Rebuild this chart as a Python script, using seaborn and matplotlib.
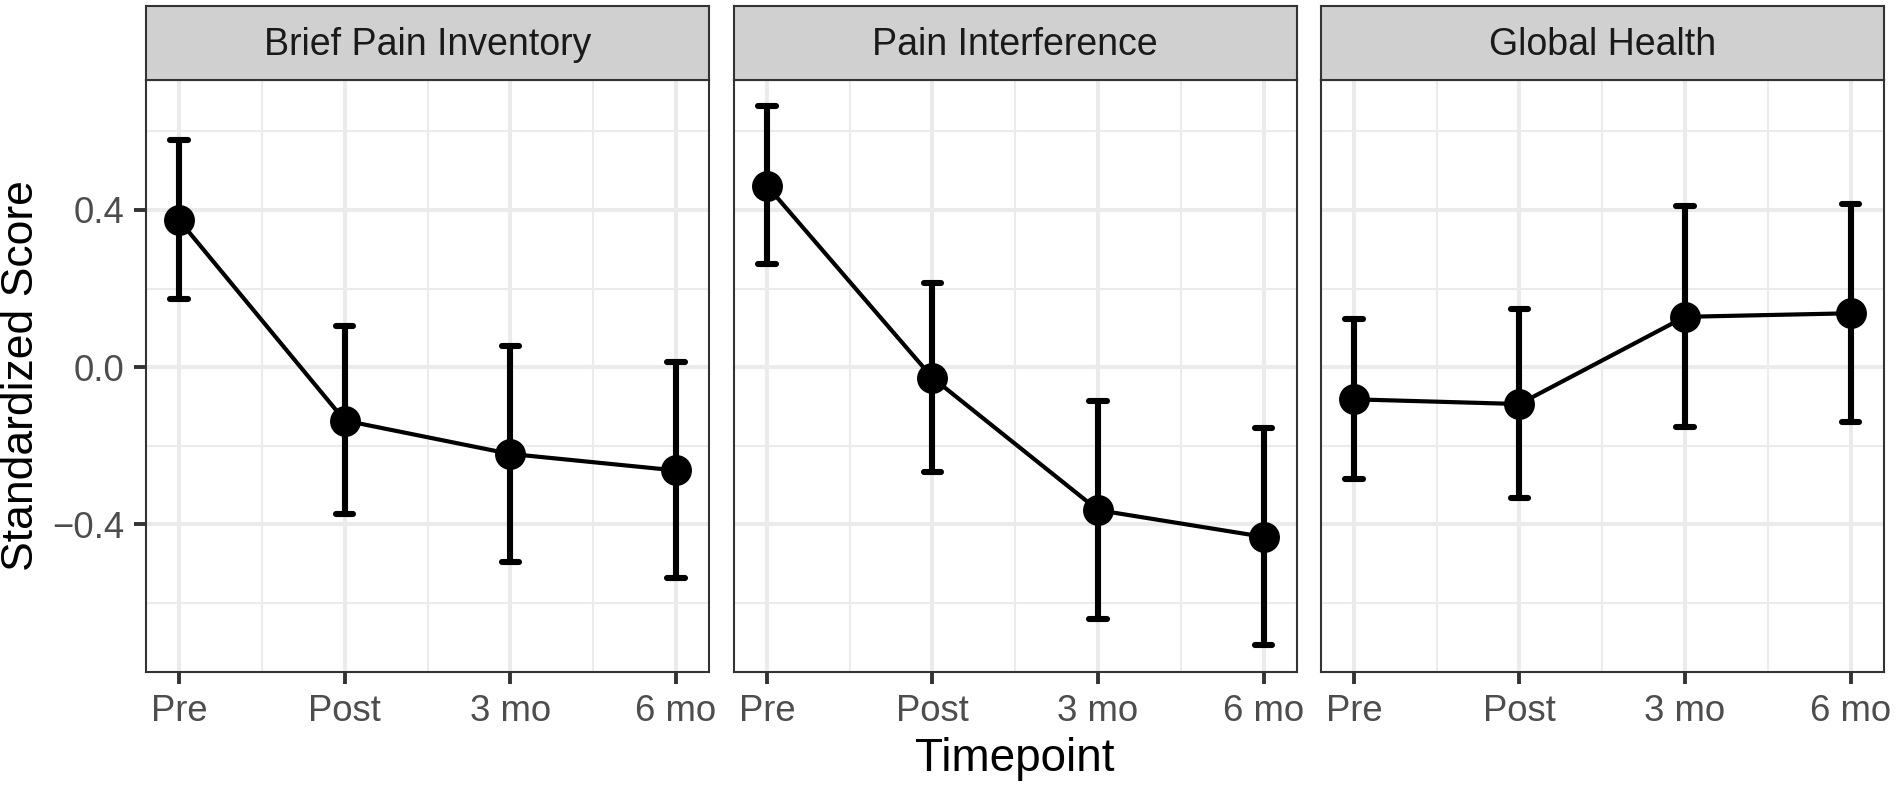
import numpy as np
import pandas as pd
import matplotlib
matplotlib.use("Agg")
import matplotlib.pyplot as plt
import seaborn as sns

# ---------------- data ----------------
timepoints = ["Pre", "Post", "3 mo", "6 mo"]
measures = ["Brief Pain Inventory", "Pain Interference", "Global Health"]

bpi_mean = [0.374, -0.136, -0.221, -0.263]
bpi_lower = [0.173, -0.374, -0.497, -0.537]
bpi_upper = [0.579, 0.105, 0.054, 0.013]

pi_mean = [0.462, -0.027, -0.364, -0.432]
pi_lower = [0.262, -0.267, -0.642, -0.708]
pi_upper = [0.665, 0.213, -0.085, -0.154]

gh_mean = [-0.082, -0.094, 0.128, 0.137]
gh_lower = [-0.285, -0.332, -0.153, -0.140]
gh_upper = [0.123, 0.147, 0.409, 0.414]

ytick_vals = [-0.4, 0.0, 0.4]
ytick_labels = ["\u22120.4", "0.0", "0.4"]

series = {
    "Brief Pain Inventory": (bpi_mean, bpi_lower, bpi_upper),
    "Pain Interference": (pi_mean, pi_lower, pi_upper),
    "Global Health": (gh_mean, gh_lower, gh_upper),
}

# long table: lower / mean / upper per point -> median = mean, 100% PI = CI
rows = []
for m in measures:
    mean, lo, hi = series[m]
    for t, a, b, c in zip(timepoints, lo, mean, hi):
        for v in (a, b, c):
            rows.append({"measure": m, "Timepoint": t, "score": v})
df = pd.DataFrame(rows)

# ---------------- style ----------------
sns.set_theme(style="white")
plt.rcParams["font.family"] = ["Liberation Sans", "DejaVu Sans"]

W, H = 1897, 790
fig = plt.figure(figsize=(W / 100, H / 100), dpi=100)

panel_left = [146.0, 733.7, 1320.7]
panel_w = 563.0
panel_top, panel_bottom = 79.5, 672.0
strip_top = 6.0

grid_col = "#EBEBEB"
border_col = "#333333"

for i, m in enumerate(measures):
    l = panel_left[i] / W
    ax = fig.add_axes([l, (H - panel_bottom) / H, panel_w / W,
                       (panel_bottom - panel_top) / H])
    sub = df[df["measure"] == m]
    sns.pointplot(data=sub, x="Timepoint", y="score", order=timepoints,
                  estimator="median", errorbar=("pi", 100),
                  color="black", capsize=0.105,
                  err_kws={"linewidth": 4.4, "color": "black"},
                  markersize=20, linewidth=3.0, ax=ax)
    ax.set_xlim(-0.2, 3.2)
    ax.set_ylim(-0.776, 0.732)
    ax.set_xlabel("")
    ax.set_ylabel("")
    ax.set_xticks(range(len(timepoints)))
    ax.set_xticklabels(timepoints)
    ax.set_xticks([0.5, 1.5, 2.5], minor=True)
    ax.set_yticks(ytick_vals)
    ax.set_yticklabels(ytick_labels)
    ax.set_yticks([-0.6, -0.2, 0.2, 0.6], minor=True)
    ax.set_axisbelow(True)
    ax.grid(True, which="major", color=grid_col, linewidth=2.9)
    ax.grid(True, which="minor", color=grid_col, linewidth=1.5)
    ax.tick_params(which="minor", length=0)
    ax.tick_params(axis="both", which="major", length=8.6, width=2.8,
                   color=border_col, labelcolor="#4D4D4D", labelsize=26.3)
    ax.tick_params(axis="x", which="major", pad=7.5, bottom=True)
    ax.tick_params(axis="y", which="major", pad=7.0, left=True)
    if i > 0:
        ax.tick_params(axis="y", which="both", left=False, labelleft=False)
    for s in ax.spines.values():
        s.set_visible(True)
        s.set_color(border_col)
        s.set_linewidth(1.5)
    ax.set_facecolor("white")

    # facet strip
    sax = fig.add_axes([l, (H - panel_top) / H, panel_w / W,
                        (panel_top - strip_top) / H])
    sax.set_facecolor("#D0D0D0")
    sax.set_xticks([])
    sax.set_yticks([])
    for s in sax.spines.values():
        s.set_visible(True)
        s.set_color(border_col)
        s.set_linewidth(1.5)
    sax.text(0.5, (panel_top - 55.4) / (panel_top - strip_top), m,
             ha="center", va="baseline", fontsize=27, color="#1A1A1A",
             transform=sax.transAxes)

fig.text(21.8 / W, 1 - 375.8 / H, "Standardized Score", rotation=90,
         ha="center", va="center", fontsize=32, color="black")
fig.text(1015 / W, 1 - 770.7 / H, "Timepoint", ha="center", va="baseline",
         fontsize=33, color="black")

fig.savefig("out.png", dpi=100, facecolor="white")
